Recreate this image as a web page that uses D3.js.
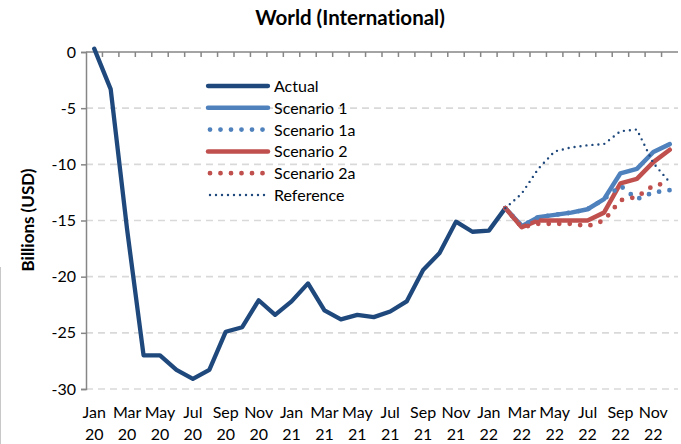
<!DOCTYPE html>
<html>
<head>
<meta charset="utf-8">
<script src="https://cdn.jsdelivr.net/npm/d3@7"></script>
<style>
  body { margin: 0; background: #fff; }
  text { font-family: Lato, "Open Sans", sans-serif; fill: #000; font-variant-ligatures: none; }
</style>
</head>
<body>
<div id="chart"></div>
<script>
// months Jan 20 .. Dec 22
var months = ["Jan 20","Feb 20","Mar 20","Apr 20","May 20","Jun 20","Jul 20","Aug 20","Sep 20","Oct 20","Nov 20","Dec 20",
              "Jan 21","Feb 21","Mar 21","Apr 21","May 21","Jun 21","Jul 21","Aug 21","Sep 21","Oct 21","Nov 21","Dec 21",
              "Jan 22","Feb 22","Mar 22","Apr 22","May 22","Jun 22","Jul 22","Aug 22","Sep 22","Oct 22","Nov 22","Dec 22"];

// Jan 20 .. Feb 22
var actual = [0.3, -3.3, -15.8, -27.0, -27.0, -28.3, -29.1, -28.3, -24.9, -24.5, -22.1, -23.4,
              -22.2, -20.6, -23.0, -23.8, -23.4, -23.6, -23.1, -22.2, -19.4, -17.9, -15.1, -16.0,
              -15.9, -13.9];

// Feb 22 .. Dec 22
var scenario1  = [-13.9, -15.5, -14.7, -14.5, -14.3, -14.0, -13.1, -10.8, -10.4, -8.9, -8.2];
var scenario1a = [-13.9, -15.5, -14.7, -14.5, -14.3, -14.0, -13.1, -11.9, -13.1, -12.5, -12.3];
var scenario2  = [-13.9, -15.6, -15.0, -15.0, -15.0, -15.0, -14.3, -11.7, -11.3, -9.8, -8.7];
var scenario2a = [-13.9, -15.6, -15.3, -15.3, -15.3, -15.5, -15.0, -13.2, -12.9, -11.9, -11.6];
var reference  = [-13.9, -12.6, -10.4, -8.85, -8.5, -8.3, -8.2, -7.05, -6.9, -9.9, -11.6];

var yTicks = [0, -5, -10, -15, -20, -25, -30];

var series = [
  {name: "Actual",      values: actual,     start: 0,  color: "#1f497d", width: 4.3, dash: null,     cap: "round"},
  {name: "Scenario 1",  values: scenario1,  start: 25, color: "#4f81bd", width: 4.5, dash: null,     cap: "round"},
  {name: "Scenario 2",  values: scenario2,  start: 25, color: "#c0504d", width: 4.5, dash: null,     cap: "round"},
  {name: "Scenario 1a", values: scenario1a, start: 25, color: "#4f81bd", width: 4.8, dash: "0,10.5", cap: "round"},
  {name: "Scenario 2a", values: scenario2a, start: 25, color: "#c0504d", width: 4.8, dash: "0,10.5", cap: "round"},
  {name: "Reference",   values: reference,  start: 25, color: "#1f497d", width: 2.4, dash: "0,6",    cap: "round"}
];
var legendOrder = ["Actual", "Scenario 1", "Scenario 1a", "Scenario 2", "Scenario 2a", "Reference"];

var W = 681, H = 444;

var svg = d3.select("#chart")
            .append("svg")
            .attr("width", W)
            .attr("height", H);

svg.append("rect").attr("width", W).attr("height", H).style("fill", "#fff");

// faint border artefact at the far left
svg.append("line")
   .attr("x1", 0.5).attr("x2", 0.5).attr("y1", 267).attr("y2", H)
   .style("stroke", "#c8c8c8").style("stroke-width", 1);

var x = d3.scaleBand().domain(months).range([86, 678]);
var y = d3.scaleLinear().domain([-30, 0]).range([389, 52]);
function xc(m) { return x(m) + x.bandwidth() / 2; }

// grid
svg.append("g")
   .attr("class", "grid")
   .selectAll("line")
   .data(yTicks.filter(function (d) { return d != 0; }))
   .enter()
   .append("line")
   .attr("x1", 86).attr("x2", 678)
   .attr("y1", function (d) { return y(d); })
   .attr("y2", function (d) { return y(d); })
   .style("stroke", "#d9d9d9")
   .style("stroke-width", 1.6)
   .style("stroke-dasharray", "7,5");

// y axis
var yAxis = svg.append("g")
   .attr("transform", "translate(86,0)")
   .call(d3.axisLeft(y).tickValues(yTicks).tickSize(5).tickPadding(5)
           .tickFormat(function (d) { return String(d); }));
yAxis.select(".domain").style("stroke", "#868686").style("stroke-width", 1.5);
yAxis.selectAll(".tick line").style("stroke", "#868686").style("stroke-width", 1.5);
yAxis.selectAll(".tick text")
     .style("font-size", "16px")
     .style("font-family", "Lato, sans-serif");

// x axis along zero
var xAxis = svg.append("g").attr("class", "x-axis");
xAxis.append("line")
     .attr("x1", 86).attr("x2", 678)
     .attr("y1", y(0)).attr("y2", y(0))
     .style("stroke", "#868686").style("stroke-width", 1.5);
xAxis.selectAll("line.tk")
     .data(months.slice(1))
     .enter()
     .append("line")
     .attr("class", "tk")
     .attr("x1", function (d) { return x(d); })
     .attr("x2", function (d) { return x(d); })
     .attr("y1", y(0)).attr("y2", y(0) + 5)
     .style("stroke", "#868686").style("stroke-width", 1.5);

// x labels (every second month) at the bottom
var xl = svg.append("g")
   .selectAll("text")
   .data(months.filter(function (d, i) { return i % 2 == 0; }))
   .enter()
   .append("text")
   .attr("text-anchor", "middle")
   .style("font-size", "16px");
xl.append("tspan")
  .attr("x", function (d) { return xc(d); })
  .attr("y", 418)
  .text(function (d) { return d.split(" ")[0]; });
xl.append("tspan")
  .attr("x", function (d) { return xc(d); })
  .attr("y", 440)
  .text(function (d) { return d.split(" ")[1]; });

// lines
var lineGenerator = d3.line()
    .x(function (d) { return xc(d.m); })
    .y(function (d) { return y(d.v); });

svg.append("g")
   .attr("class", "lines")
   .selectAll("path")
   .data(series)
   .enter()
   .append("path")
   .attr("d", function (s) {
       return lineGenerator(s.values.map(function (v, i) { return {m: months[s.start + i], v: v}; }));
   })
   .style("fill", "none")
   .style("stroke", function (s) { return s.color; })
   .style("stroke-width", function (s) { return s.width; })
   .style("stroke-linecap", function (s) { return s.cap; })
   .style("stroke-linejoin", "round")
   .style("stroke-dasharray", function (s) { return s.dash; });

// legend
var legend = svg.append("g")
   .attr("class", "legend")
   .selectAll("g")
   .data(legendOrder.map(function (n) { return series.filter(function (s) { return s.name == n; })[0]; }))
   .enter()
   .append("g")
   .attr("transform", function (d, i) { return "translate(208," + (86 + i * 21.8) + ")"; });

legend.append("line")
   .attr("x1", function (d) { return d.dash ? 2 : 0; })
   .attr("x2", 60)
   .attr("y1", 0).attr("y2", 0)
   .style("stroke", function (d) { return d.color; })
   .style("stroke-width", function (d) { return d.width; })
   .style("stroke-linecap", "round")
   .style("stroke-dasharray", function (d) { return d.dash; });

legend.append("text")
   .attr("x", 66)
   .attr("y", 6)
   .style("font-size", "16px")
   .text(function (d) { return d.name; });

// titles
svg.append("text")
   .attr("x", 350).attr("y", 25)
   .attr("text-anchor", "middle")
   .style("font-size", "20.5px")
   .style("font-weight", "bold")
   .text("World (International)");

svg.append("text")
   .attr("transform", "translate(34,220) rotate(-90)")
   .attr("text-anchor", "middle")
   .style("font-size", "17px")
   .style("font-weight", "bold")
   .text("Billions (USD)");
</script>
</body>
</html>
